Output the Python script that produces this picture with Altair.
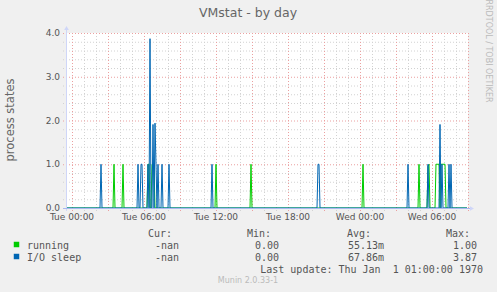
import altair as alt
import pandas as pd

# ---------------- data ----------------
x_domain = [-0.5, 33.0]            # hours relative to Tue 00:00
y_domain = [0.0, 4.0]
x_tick_hours = [0, 6, 12, 18, 24, 30]
x_tick_labels = ["Tue 00:00", "Tue 06:00", "Tue 12:00", "Tue 18:00", "Wed 00:00", "Wed 06:00"]
y_ticks = [0, 1, 2, 3, 4]
y_tick_labels = ["0.0", "1.0", "2.0", "3.0", "4.0"]
grid_minor_x = [h for h in range(0, 34)]
grid_major_x = [0, 3, 6, 9, 12, 15, 18, 21, 24, 27, 30, 33]
grid_minor_y = [0.2, 0.4, 0.6, 0.8, 1.2, 1.4, 1.6, 1.8, 2.2, 2.4, 2.6, 2.8, 3.2, 3.4, 3.6, 3.8]
grid_major_y = [1, 2, 3, 4]

# non-zero 5-minute samples (hour, value); all other samples read as 0
running_times = [3.53, 4.28, 6.33, 6.42, 6.67, 6.75, 6.83, 11.97, 14.92, 24.28,
                 28.95, 29.67, 29.75, 30.33, 30.42, 30.5, 30.58, 30.75, 30.83,
                 30.92, 31.0, 31.08]
running_vals = [1.0, 1.0, 1.0, 1.0, 1.0, 1.0, 1.0, 1.0, 1.0, 1.0,
                1.0, 0.95, 1.0, 1.0, 1.0, 1.0, 1.0, 1.0, 1.0,
                1.0, 1.0, 1.0]
iosleep_times = [2.45, 5.53, 5.72, 5.8, 6.3, 6.5, 6.78, 6.94, 7.03, 7.2, 7.47,
                 8.1, 11.7, 20.5, 20.58, 28.03, 29.7, 30.67, 30.83, 31.45, 31.55]
iosleep_vals = [1.0, 1.0, 1.0, 1.0, 1.0, 3.87, 1.91, 1.94, 1.0, 1.0, 1.0,
                1.0, 1.0, 1.0, 1.0, 1.0, 1.0, 1.91, 1.0, 1.0, 1.0]

series_names = ["running", "I/O sleep"]
series_colors = ["#00CC00", "#0066B3"]
leg_cur = ["-nan", "-nan"]
leg_min = ["0.00", "0.00"]
leg_avg = ["55.13m", "67.86m"]
leg_max = ["1.00", "3.87"]
last_update = "Last update: Thu Jan\u00a0 1 01:00:00 1970"

# ---------------- tables ----------------
n = int(round((x_domain[1] - x_domain[0]) * 12))
grid_t = [x_domain[0] + i / 12 for i in range(n)]

def build(name, times, vals):
    v = [0.0] * n
    for t, val in zip(times, vals):
        v[int(round((t - x_domain[0]) * 12))] = val
    return pd.DataFrame({"t": grid_t, "v": v, "s": name})

df = pd.concat([build(series_names[0], running_times, running_vals),
                build(series_names[1], iosleep_times, iosleep_vals)])

W, H = 402, 175
FONT = "DejaVu Sans"
MONO = "DejaVu Sans Mono"
TXT = "#555555"
AXC = "#CFD6F8"

xs = alt.Scale(domain=x_domain, nice=False, zero=False)
ys = alt.Scale(domain=y_domain, nice=False)

def vrules(vals, color):
    return alt.Chart(pd.DataFrame({"gx": vals})).mark_rule(
        color=color, strokeDash=[1, 2], strokeWidth=1, xOffset=0.5
    ).encode(x=alt.X("gx:Q", scale=xs, axis=None), y=alt.value(0), y2=alt.value(H + 3))

def hrules(vals, color):
    return alt.Chart(pd.DataFrame({"gy": vals})).mark_rule(
        color=color, strokeDash=[1, 2], strokeWidth=1, yOffset=0.5
    ).encode(y=alt.Y("gy:Q", scale=ys, axis=None), x=alt.value(-3), x2=alt.value(W))

layers = [
    vrules(grid_minor_x, "#D2D2D2"),
    hrules(grid_minor_y, "#D2D2D2"),
    vrules(grid_major_x, "#EBA0A0"),
    hrules(grid_major_y, "#EBA0A0"),
]

for name, color in zip(series_names, series_colors):
    layers.append(
        alt.Chart(df[df.s == name]).mark_line(color=color, strokeWidth=1, interpolate="linear").encode(
            x=alt.X("t:Q", scale=xs, axis=None),
            y=alt.Y("v:Q", scale=ys, axis=None),
        )
    )

# tick labels, placed through the scales
layers.append(alt.Chart(pd.DataFrame({"h": x_tick_hours, "lab": x_tick_labels})).mark_text(
    font=FONT, fontSize=9, color=TXT, align="center", baseline="top"
).encode(x=alt.X("h:Q", scale=xs, axis=None), y=alt.value(H + 4.5), text="lab:N"))
layers.append(alt.Chart(pd.DataFrame({"yv": y_ticks, "lab": y_tick_labels})).mark_text(
    font=FONT, fontSize=9, color=TXT, align="right", baseline="middle"
).encode(y=alt.Y("yv:Q", scale=ys, axis=None), x=alt.value(-6), text="lab:N"))

# axis lines + arrows
layers.append(alt.Chart().mark_rule(color=AXC, strokeWidth=1, xOffset=0.5).encode(
    x=alt.value(0), y=alt.value(-4), y2=alt.value(H + 3)))
layers.append(alt.Chart().mark_rule(color="#A8B8F0", strokeWidth=1, yOffset=0.5).encode(
    y=alt.value(H), x=alt.value(-3), x2=alt.value(W + 3)))
layers.append(alt.Chart().mark_point(shape="triangle-up", filled=True, size=22, color=AXC, opacity=1).encode(
    x=alt.value(0.5), y=alt.value(-5)))
layers.append(alt.Chart().mark_point(shape="triangle-right", filled=True, size=22, color=AXC, opacity=1).encode(
    x=alt.value(W + 4), y=alt.value(H + 0.5)))

def txt(s, x, y, size, color=TXT, font=FONT, align="left", angle=0, baseline="middle"):
    return alt.Chart().mark_text(text=s, font=font, fontSize=size, color=color, align=align,
                                 baseline=baseline, angle=angle).encode(x=alt.value(x), y=alt.value(y))

# titles
layers.append(txt("VMstat - by day", 182, -20, 12.5, color="#666666", align="center"))
layers.append(txt("process states", -55, 87, 11.5, color="#666666", align="center", angle=270))
layers.append(txt("RRDTOOL / TOBI OETIKER", 422, 18, 8, color="#BBBBBB", align="center", angle=90))

# legend
hdr_y = 201
for lab, xr in zip(["Cur:", "Min:", "Avg:", "Max:"], [106, 205, 305, 404]):
    layers.append(txt(lab, xr, hdr_y, 10, font=MONO, align="right"))
row_y = [212.5, 224.5]
for i in range(2):
    layers.append(alt.Chart().mark_point(shape="square", filled=True, size=30, opacity=1,
                                         color=series_colors[i]).encode(x=alt.value(-49.5), y=alt.value(row_y[i] - 1)))
    layers.append(txt(series_names[i], -39, row_y[i], 10, font=MONO))
    for val, xr in zip([leg_cur[i], leg_min[i], leg_avg[i], leg_max[i]], [113, 213, 318, 411]):
        layers.append(txt(val, xr, row_y[i], 10, font=MONO, align="right"))
layers.append(txt(last_update, 417, 237, 10, font=MONO, align="right"))
layers.append(txt("Munin 2.0.33-1", 182, 248, 8, color="#BBBBBB", align="center"))

chart = alt.layer(*layers).properties(
    width=W, height=H,
    autosize=alt.AutoSizeParams(type="none"),
    padding={"left": 66, "top": 33, "right": 29, "bottom": 84},
    background="#F0F0F0",
).configure_view(fill="#FFFFFF", stroke=None)

chart.save("out.html", embed_options={"renderer": "svg", "actions": False})
